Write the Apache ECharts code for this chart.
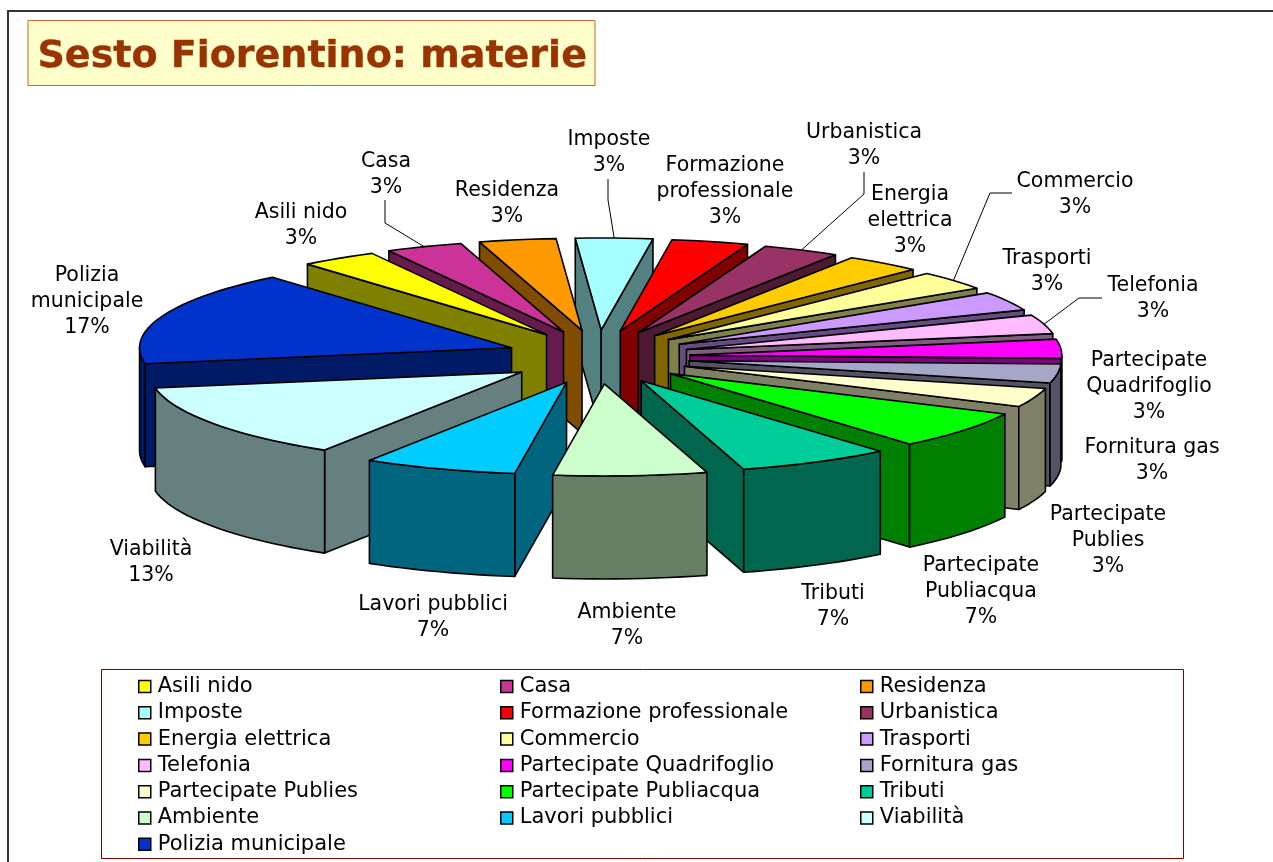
<!DOCTYPE html>
<html>
<head>
<meta charset="utf-8">
<style>
  html, body { margin: 0; padding: 0; background: #fff; }
  #chart { width: 1273px; height: 862px; }
</style>
<script src="https://cdn.jsdelivr.net/npm/echarts@6/dist/echarts.min.js"></script>
</head>
<body>
<div id="chart"></div>
<script>
// slices, clockwise from the first one
var categories = ['Asili nido', 'Casa', 'Residenza', 'Imposte', 'Formazione professionale', 'Urbanistica',
  'Energia elettrica', 'Commercio', 'Trasporti', 'Telefonia', 'Partecipate Quadrifoglio', 'Fornitura gas',
  'Partecipate Publies', 'Partecipate Publiacqua', 'Tributi', 'Ambiente', 'Lavori pubblici', 'Viabilità',
  'Polizia municipale'];
var values = [1, 1, 1, 1, 1, 1, 1, 1, 1, 1, 1, 1, 1, 2, 2, 2, 2, 4, 5];
var colors = ['#FFFF00', '#CC3399', '#FF9900', '#A6FFFF', '#FF0000', '#993366', '#FFCC00', '#FFFF99', '#CC99FF',
  '#FFBBFF', '#FF00FF', '#A6A6C8', '#FFFFCC', '#00FF00', '#00CC99', '#CCFFCC', '#00CCFF', '#CCFFFF', '#0033CC'];

// legend columns, as in the box under the pie
var legendCols = [
  ['Asili nido', 'Imposte', 'Energia elettrica', 'Telefonia', 'Partecipate Publies', 'Ambiente', 'Polizia municipale'],
  ['Casa', 'Formazione professionale', 'Commercio', 'Partecipate Quadrifoglio', 'Partecipate Publiacqua', 'Lavori pubblici'],
  ['Residenza', 'Urbanistica', 'Trasporti', 'Fornitura gas', 'Tributi', 'Viabilità']
];

// label placement: centre x, y of the first line. broken lines as the labels wrap
var labelText = ['Asili nido', 'Casa', 'Residenza', 'Imposte', 'Formazione\nprofessionale', 'Urbanistica',
  'Energia\nelettrica', 'Commercio', 'Trasporti', 'Telefonia', 'Partecipate\nQuadrifoglio', 'Fornitura gas',
  'Partecipate\nPublies', 'Partecipate\nPubliacqua', 'Tributi', 'Ambiente', 'Lavori pubblici', 'Viabilità',
  'Polizia\nmunicipale'];
var labelPos = [[301, 213], [386, 162], [507, 191], [609, 140], [725, 166], [864, 133], [910, 195], [1075, 182],
  [1047, 259], [1153, 286], [1149, 361], [1152, 448], [1108, 515], [981, 566], [833, 594], [627, 613], [433, 605],
  [151, 550], [87, 276]];
// leader lines: slice index -> bend points, the last segment runs to the rim of the slice
var leaders = {
  1: [[385, 200], [385, 223]],
  3: [[608, 179], [608, 200]],
  5: [[864, 172], [864, 194]],
  7: [[1012, 193], [990, 193]],
  9: [[1102, 298], [1079, 298]]
};

var FONT = '"DejaVu Sans", Verdana, sans-serif';
var CX = 598, CY = 357;     // pie centre
var RX = 372, RY = 92;      // top ellipse
var EX = 92, EY = 27;       // explosion offset
var DEPTH = 103;
var START = -40;            // first slice angle, degrees clockwise from 12 o'clock
var LINE_H = 26;

var total = values.reduce(function (a, b) { return a + b; }, 0);

var slices = [];
var cum = 0;
values.forEach(function (v, i) {
  var a0 = (START + cum / total * 360 + 360) % 360;
  var a1 = a0 + v / total * 360;
  slices.push({ a0: a0, a1: a1, mid: (a0 + a1) / 2 });
  cum += v;
});

function rad(d) { return d * Math.PI / 180; }

function darken(hex) {
  var n = parseInt(hex.slice(1), 16);
  var r = (n >> 16) & 255, g = (n >> 8) & 255, b = n & 255;
  return 'rgb(' + Math.round(r / 2) + ',' + Math.round(g / 2) + ',' + Math.round(b / 2) + ')';
}

function poly(points, fill) {
  return {
    type: 'polygon',
    shape: { points: points },
    style: { fill: fill, stroke: '#000', lineWidth: 1.6, lineJoin: 'round' }
  };
}

function renderSlice(i) {
  return function (params, api) {
    var s = slices[i];
    var ax = CX + EX * Math.sin(rad(s.mid));
    var ay = CY - EY * Math.cos(rad(s.mid));
    var side = darken(colors[i]);
    function rim(a, dz) {
      return [ax + RX * Math.sin(rad(a)), ay - RY * Math.cos(rad(a)) + dz];
    }
    var kids = [];

    // radial walls facing the viewer
    [[s.a0, Math.sin(rad(s.a0)) < 0], [s.a1, Math.sin(rad(s.a1)) > 0]].forEach(function (w) {
      if (w[1]) {
        kids.push(poly([[ax, ay], rim(w[0], 0), rim(w[0], DEPTH), [ax, ay + DEPTH]], side));
      }
    });

    // outer wall, only the part on the front half of the ellipse
    var f0 = Math.max(s.a0, 90), f1 = Math.min(s.a1, 270);
    var a, pts;
    if (f1 > f0) {
      pts = [];
      for (a = f0; a < f1; a += 2) { pts.push(rim(a, 0)); }
      pts.push(rim(f1, 0));
      for (a = f1; a > f0; a -= 2) { pts.push(rim(a, DEPTH)); }
      pts.push(rim(f0, DEPTH));
      kids.push(poly(pts, side));
    }

    // top
    pts = [[ax, ay]];
    for (a = s.a0; a < s.a1; a += 2) { pts.push(rim(a, 0)); }
    pts.push(rim(s.a1, 0));
    kids.push(poly(pts, colors[i]));

    // leader
    if (leaders[i]) {
      kids.push({
        type: 'polyline',
        shape: { points: leaders[i].concat([rim(s.mid, 0)]) },
        style: { fill: null, stroke: '#000', lineWidth: 1 }
      });
    }

    // label, last line is the percentage
    var lines = labelText[i].split('\n');
    lines.push(Math.round(api.value(0) / total * 100) + '%');
    lines.forEach(function (t, k) {
      kids.push({
        type: 'text',
        style: {
          text: t, x: labelPos[i][0], y: labelPos[i][1] + k * LINE_H,
          align: 'center', verticalAlign: 'middle', fill: '#000',
          font: '20.5px ' + FONT
        }
      });
    });

    return { type: 'group', children: kids };
  };
}

// back slices are painted first
var paintOrder = categories.map(function (c, i) { return i; }).sort(function (p, q) {
  return Math.cos(rad(slices[q].mid)) - Math.cos(rad(slices[p].mid));
});

var series = paintOrder.map(function (i) {
  return {
    type: 'custom',
    name: categories[i],
    coordinateSystem: 'none',
    renderItem: renderSlice(i),
    itemStyle: { color: colors[i] },
    data: [[values[i]]],
    silent: true,
    animation: false
  };
});

var legendLeft = [138, 500, 860];
var legends = legendCols.map(function (col, k) {
  return {
    orient: 'vertical',
    left: legendLeft[k],
    top: 676,
    bottom: 0,
    itemWidth: 12,
    itemHeight: 12,
    itemGap: 5.3,
    padding: 0,
    selectedMode: false,
    icon: 'rect',
    itemStyle: { borderColor: '#000', borderWidth: 1.5 },
    textStyle: { fontFamily: FONT, fontSize: 21, color: '#000', padding: [0, 0, 0, 2] },
    data: col
  };
});

var chart = echarts.init(document.getElementById('chart'));
chart.setOption({
  backgroundColor: '#fff',
  animation: false,
  title: {
    text: 'Sesto Fiorentino: materie',
    left: 27.5,
    top: 20,
    padding: [15, 8, 7, 10],
    backgroundColor: '#FFFFCC',
    borderColor: '#CC6633',
    borderWidth: 1,
    textStyle: {
      fontFamily: FONT, fontWeight: 'bold', fontSize: 38, color: '#993300', lineHeight: 44,
      textBorderColor: '#993300', textBorderWidth: 0.4
    }
  },
  legend: legends,
  graphic: [
    {
      type: 'rect', z: -1,
      shape: { x: 8, y: 11, width: 1280, height: 870 },
      style: { fill: null, stroke: '#333', lineWidth: 2 }
    },
    {
      type: 'rect', z: -1,
      shape: { x: 101.5, y: 669.5, width: 1082, height: 189 },
      style: { fill: '#fff', stroke: '#800000', lineWidth: 1 }
    }
  ],
  series: series
});
</script>
</body>
</html>
